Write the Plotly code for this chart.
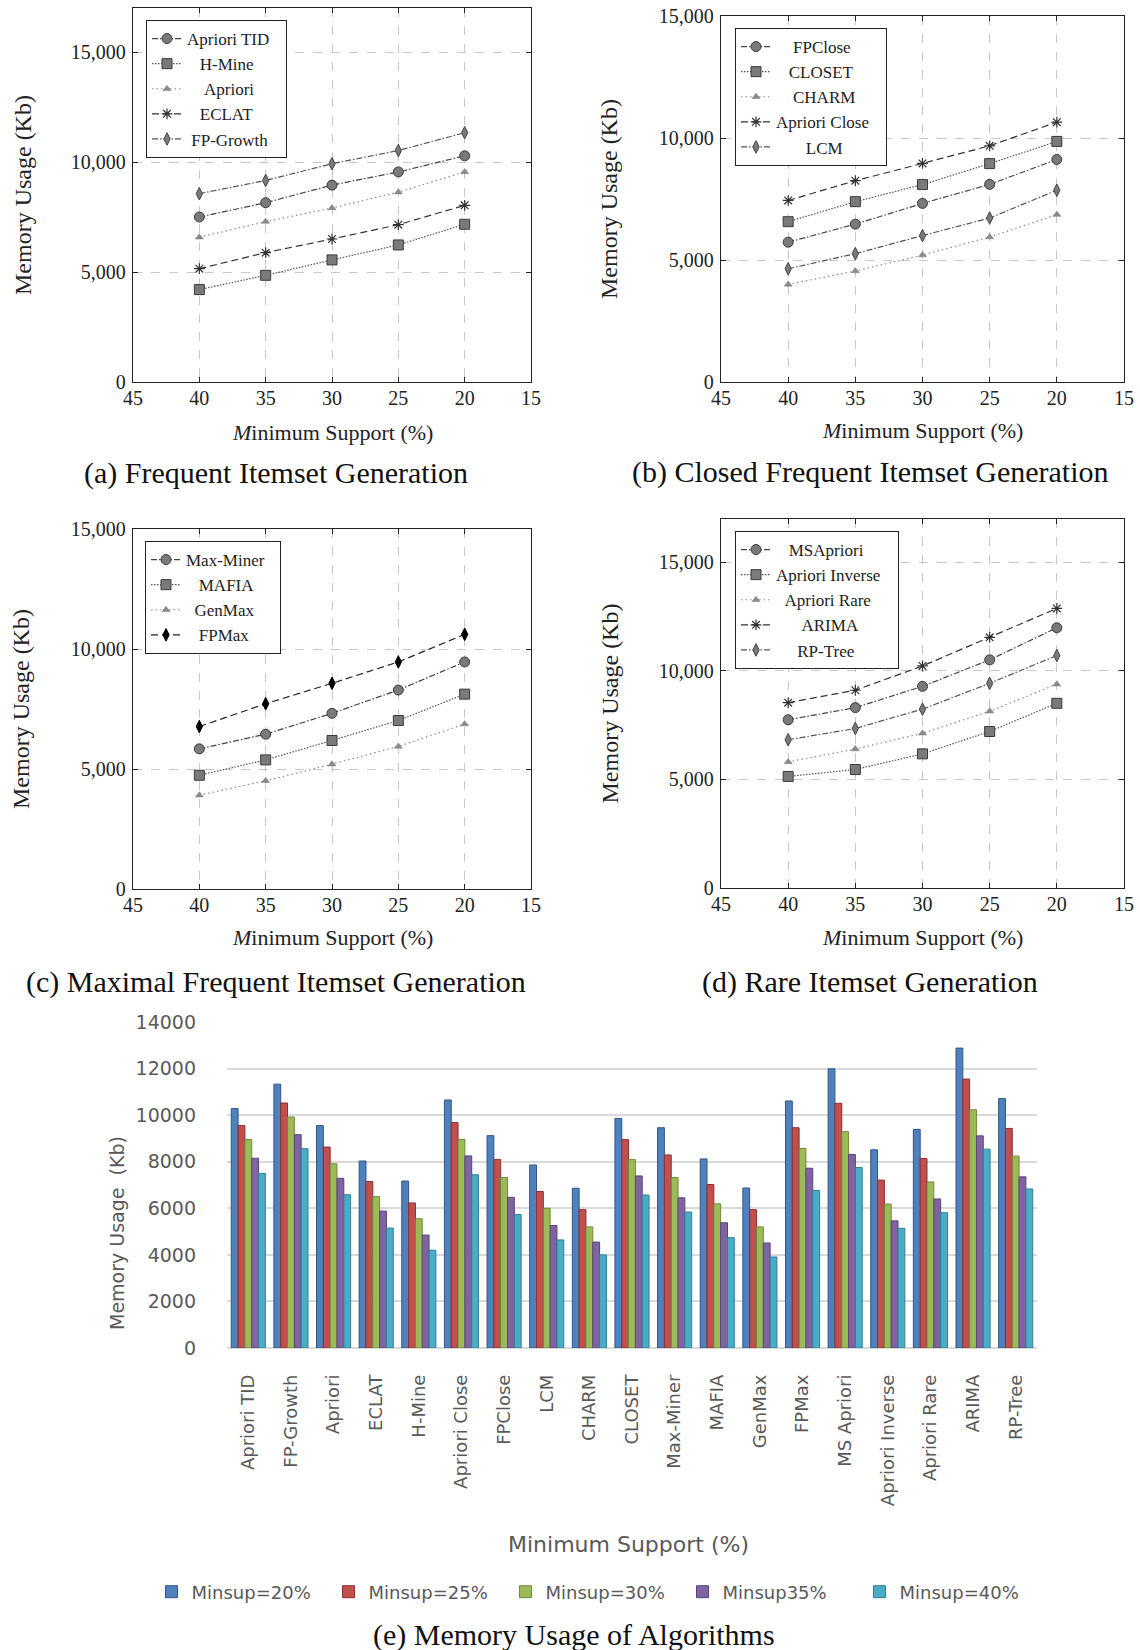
import plotly.graph_objects as go

# Minimum support levels (%) on the line charts
SUPPORT = [40, 35, 30, 25, 20]

# (a) Frequent itemset generation, memory in Kb
APRIORI_TID = [7500, 8150, 8950, 9550, 10280]
H_MINE = [4200, 4850, 5550, 6230, 7170]
APRIORI = [6580, 7290, 7910, 8630, 9550]
ECLAT = [5150, 5880, 6500, 7150, 8030]
FP_GROWTH = [8560, 9160, 9920, 10520, 11330]

# (b) Closed frequent itemset generation
FPCLOSE = [5730, 6470, 7320, 8100, 9120]
CLOSET = [6570, 7390, 8090, 8950, 9860]
CHARM = [4000, 4550, 5200, 5940, 6860]
APRIORI_CLOSE = [7440, 8250, 8960, 9680, 10650]
LCM = [4640, 5260, 6000, 6720, 7860]

# (c) Maximal frequent itemset generation
MAX_MINER = [5840, 6450, 7320, 8290, 9460]
MAFIA = [4740, 5380, 6190, 7020, 8120]
GENMAX = [3910, 4510, 5200, 5940, 6870]
FPMAX = [6770, 7720, 8570, 9460, 10610]

# (d) Rare itemset generation
MSAPRIORI = [7750, 8310, 9290, 10510, 11990]
APRIORI_INVERSE = [5140, 5460, 6180, 7210, 8510]
APRIORI_RARE = [5810, 6400, 7130, 8140, 9390]
ARIMA = [8540, 9110, 10230, 11550, 12880]
RP_TREE = [6830, 7350, 8240, 9430, 10710]

# (e) Bar chart categories and series
BAR_ALGORITHMS = ["Apriori TID", "FP-Growth", "Apriori", "ECLAT", "H-Mine",
                  "Apriori Close", "FPClose", "LCM", "CHARM", "CLOSET",
                  "Max-Miner", "MAFIA", "GenMax", "FPMax", "MS Apriori",
                  "Apriori Inverse", "Apriori Rare", "ARIMA", "RP-Tree"]
BAR_DATA = [APRIORI_TID, FP_GROWTH, APRIORI, ECLAT, H_MINE,
            APRIORI_CLOSE, FPCLOSE, LCM, CHARM, CLOSET,
            MAX_MINER, MAFIA, GENMAX, FPMAX, MSAPRIORI,
            APRIORI_INVERSE, APRIORI_RARE, ARIMA, RP_TREE]
BAR_SUPPORTS = [20, 25, 30, 35, 40]
BAR_SERIES = ["Minsup=20%", "Minsup=25%", "Minsup=30%", "Minsup35%", "Minsup=40%"]
BAR_COLORS = ["#4F81BD", "#C0504D", "#9BBB59", "#8064A2", "#4BACC6"]
BAR_EDGES = ["#2F5587", "#8E2F2D", "#6E8A3A", "#59457A", "#2F8098"]

W, H = 1140, 1650
SERIF = "Liberation Serif"
SANS = "DejaVu Sans"

# approximate serif glyph widths (em) used to centre legend labels
_GLYPH_W = {'A': .722, 'B': .667, 'C': .667, 'D': .722, 'E': .611, 'F': .556,
            'G': .722, 'H': .722, 'I': .333, 'K': .722, 'L': .611, 'M': .889,
            'N': .722, 'O': .722, 'P': .556, 'R': .667, 'S': .556, 'T': .611,
            'X': .722, 'a': .444, 'c': .444, 'e': .444, 'f': .333, 'i': .278,
            'l': .278, 'm': .778, 'r': .333, 's': .389, 't': .278, 'w': .722,
            ' ': .25, '-': .333}
NBSP = "\u00a0"


def text_em(s):
    return sum(_GLYPH_W.get(ch, .5) for ch in s)


def centred(names):
    """Pad legend labels so they sit centred in a slightly wider text column."""
    widest = max(text_em(s) for s in names)
    out = []
    for s in names:
        pad = int(round((widest - text_em(s)) / 2 / .25))
        out.append(NBSP * pad + s + NBSP * (pad + 2))
    return out


def px_x(v):
    return v / W


def px_y(v):
    return 1 - v / H


# pgfplots-like mark / line styles
STYLES = {
    "circle": dict(line=dict(color="#444", width=1.2, dash="6px,2px,1.5px,2px"),
                   marker=dict(symbol="circle", size=10, color="#7a7a7a",
                               line=dict(color="#3a3a3a", width=1))),
    "square": dict(line=dict(color="#555", width=1.2, dash="1.5px,1.5px"),
                   marker=dict(symbol="square", size=10, color="#7a7a7a",
                               line=dict(color="#3a3a3a", width=1))),
    "triangle": dict(line=dict(color="#8a8a8a", width=1.2, dash="1.5px,3px"),
                     marker=dict(symbol="triangle-up", size=7, color="#8a8a8a",
                                 line=dict(color="#7a7a7a", width=0.5))),
    "star": dict(line=dict(color="#333", width=1.2, dash="7px,4px"),
                 marker=dict(symbol="asterisk-open", size=9, color="#333",
                             line=dict(color="#333", width=1.2))),
    "diamond": dict(line=dict(color="#555", width=1.2, dash="6px,2px,1.5px,2px"),
                    marker=dict(symbol="diamond-tall", size=9, color="#7a7a7a",
                                line=dict(color="#444", width=1))),
    "diamond_black": dict(line=dict(color="#222", width=1.2, dash="7px,4px"),
                          marker=dict(symbol="diamond-tall", size=9, color="#000",
                                      line=dict(color="#000", width=1))),
}

PANELS = [
    dict(n="", legend="legend", x=(133, 531), y=(8, 382), ymax=17000,
         legend_box=(146, 20), ytitle_x=23, xtitle_y=432,
         caption="(a) Frequent Itemset Generation", cap_x=276, cap_y=473,
         series=[("Apriori TID", APRIORI_TID, "circle"),
                 ("H-Mine", H_MINE, "square"),
                 ("Apriori", APRIORI, "triangle"),
                 ("ECLAT", ECLAT, "star"),
                 ("FP-Growth", FP_GROWTH, "diamond")]),
    dict(n="2", legend="legend2", x=(721, 1124), y=(16, 382), ymax=15000,
         legend_box=(735, 28), ytitle_x=609, xtitle_y=430,
         caption="(b) Closed Frequent Itemset Generation", cap_x=870, cap_y=472,
         series=[("FPClose", FPCLOSE, "circle"),
                 ("CLOSET", CLOSET, "square"),
                 ("CHARM", CHARM, "triangle"),
                 ("Apriori Close", APRIORI_CLOSE, "star"),
                 ("LCM", LCM, "diamond")]),
    dict(n="3", legend="legend3", x=(133, 531), y=(529, 889), ymax=15000,
         legend_box=(145, 541), ytitle_x=21, xtitle_y=937,
         caption="(c) Maximal Frequent Itemset Generation", cap_x=276, cap_y=982,
         series=[("Max-Miner", MAX_MINER, "circle"),
                 ("MAFIA", MAFIA, "square"),
                 ("GenMax", GENMAX, "triangle"),
                 ("FPMax", FPMAX, "diamond_black")]),
    dict(n="4", legend="legend4", x=(721, 1124), y=(519, 888), ymax=17000,
         legend_box=(735, 531), ytitle_x=609, xtitle_y=937,
         caption="(d) Rare Itemset Generation", cap_x=870, cap_y=982,
         series=[("MSApriori", MSAPRIORI, "circle"),
                 ("Apriori Inverse", APRIORI_INVERSE, "square"),
                 ("Apriori Rare", APRIORI_RARE, "triangle"),
                 ("ARIMA", ARIMA, "star"),
                 ("RP-Tree", RP_TREE, "diamond")]),
]


def note(text, x, y, font, angle=0):
    return dict(text=text, x=px_x(x), y=px_y(y), xref="paper", yref="paper",
                xanchor="center", yanchor="middle", textangle=angle,
                showarrow=False, font=font)


fig = go.Figure()
layout = dict(width=W, height=H,
              margin=dict(l=0, r=0, t=0, b=0, pad=0, autoexpand=False),
              paper_bgcolor="white", plot_bgcolor="white", showlegend=True,
              barmode="group", bargap=0.2, bargroupgap=0.0,
              font=dict(family=SERIF, color="#222"))
annotations = []

for p in PANELS:
    n = p["n"]
    labels = centred([s[0] for s in p["series"]])
    for (name, vals, style), label in zip(p["series"], labels):
        st = STYLES[style]
        fig.add_trace(go.Scatter(
            x=SUPPORT, y=vals, name=label, mode="lines+markers",
            line=st["line"], marker=st["marker"],
            xaxis="x" + n, yaxis="y" + n, legend=p["legend"], legendgroup=name))

    frame = dict(showline=True, linecolor="#222", linewidth=1.3, mirror="allticks",
                 ticks="inside", ticklen=5, tickcolor="#222", tickwidth=1,
                 showgrid=True, gridcolor="#c8c8c8", griddash="dash", gridwidth=1,
                 zeroline=False, automargin=False,
                 tickfont=dict(family=SERIF, size=20, color="#222"))
    layout["xaxis" + n] = dict(
        frame, domain=[px_x(p["x"][0]), px_x(p["x"][1])], range=[45, 15],
        tickmode="array", tickvals=[45, 40, 35, 30, 25, 20, 15],
        ticklabelstandoff=-2, anchor="y" + n)
    layout["yaxis" + n] = dict(
        frame, domain=[px_y(p["y"][1]), px_y(p["y"][0])], range=[0, p["ymax"]],
        tickmode="linear", tick0=0, dtick=5000, tickformat=",d",
        ticklabelstandoff=2, anchor="x" + n)
    layout[p["legend"]] = dict(
        x=px_x(p["legend_box"][0]), y=px_y(p["legend_box"][1]),
        xanchor="left", yanchor="top", bgcolor="white",
        bordercolor="#222", borderwidth=1, itemwidth=30, tracegroupgap=0,
        font=dict(family=SERIF, size=17, color="#222"))

    xc = (p["x"][0] + p["x"][1]) / 2
    yc = (p["y"][0] + p["y"][1]) / 2
    annotations.append(note("Memory Usage (Kb)", p["ytitle_x"], yc,
                            dict(family=SERIF, size=24, color="#222"), angle=-90))
    annotations.append(note("<i>M</i>inimum Support (%)", xc, p["xtitle_y"],
                            dict(family=SERIF, size=22, color="#222")))
    annotations.append(note(p["caption"], p["cap_x"], p["cap_y"],
                            dict(family=SERIF, size=30, color="#111")))

# (e) grouped bars: memory usage of every algorithm at each support level
for k, (name, sup) in enumerate(zip(BAR_SERIES, BAR_SUPPORTS)):
    idx = SUPPORT.index(sup)
    fig.add_trace(go.Bar(
        x=BAR_ALGORITHMS, y=[alg[idx] for alg in BAR_DATA], name=name,
        marker=dict(color=BAR_COLORS[k], line=dict(color=BAR_EDGES[k], width=1)),
        xaxis="x5", yaxis="y5", legend="legend5"))

layout["xaxis5"] = dict(domain=[px_x(227), px_x(1037)], anchor="y5",
                        showline=False, showgrid=False, zeroline=False, ticks="",
                        tickangle=-90, ticklabelstandoff=22, automargin=False,
                        tickfont=dict(family=SANS, size=18, color="#595959"))
layout["yaxis5"] = dict(domain=[px_y(1348), px_y(1022)], anchor="x5",
                        range=[0, 14000], tickmode="linear", tick0=0, dtick=2000,
                        tickformat="d", showline=False, ticks="",
                        showgrid=True, gridcolor="#d9d9d9", gridwidth=2,
                        zeroline=True, zerolinecolor="#d9d9d9", zerolinewidth=2,
                        ticklabelstandoff=30, automargin=False,
                        tickfont=dict(family=SANS, size=19, color="#595959"))
layout["legend5"] = dict(orientation="h", x=px_x(594), y=px_y(1592),
                         xanchor="center", yanchor="middle",
                         entrywidth=132, entrywidthmode="pixels", itemwidth=30,
                         font=dict(family=SANS, size=18, color="#595959"),
                         bgcolor="rgba(0,0,0,0)")

annotations.append(note("Memory Usage  (Kb)", 117, 1233,
                        dict(family=SANS, size=19, color="#595959"), angle=-90))
annotations.append(note("Minimum Support (%)", 628, 1544,
                        dict(family=SANS, size=22, color="#595959")))
annotations.append(note("(e) Memory Usage of Algorithms", 574, 1635,
                        dict(family=SERIF, size=30, color="#111")))

layout["annotations"] = annotations
fig.update_layout(**layout)
# the figure fills the page exactly, so drop the browser's default page margins
fig.write_html("out.html",
               post_script="document.documentElement.style.margin='0';"
                           "document.body.style.margin='0';"
                           "document.body.style.padding='0';"
                           "document.documentElement.style.overflow='hidden';")
